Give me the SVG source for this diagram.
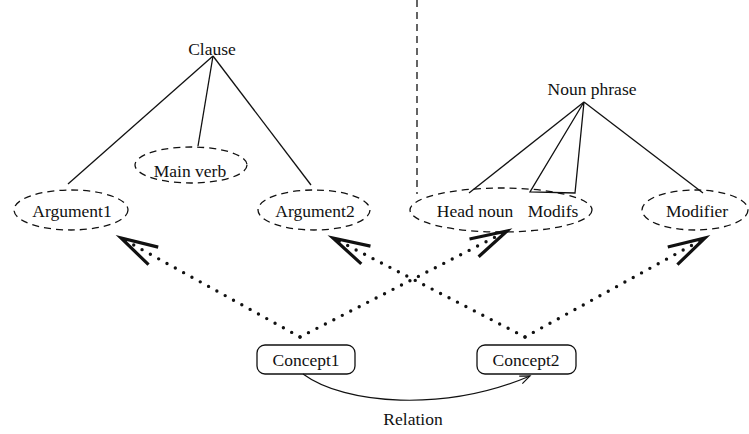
<svg xmlns="http://www.w3.org/2000/svg" width="749" height="434" viewBox="0 0 749 434">
  <style>
    text { font-family: "Liberation Serif", "Times New Roman", serif; font-size: 17.5px; fill: #111; text-anchor: middle; }
    .slot { fill: none; stroke: #111; stroke-width: 1.3; stroke-dasharray: 7 5; }
    .tree { fill: none; stroke: #111; stroke-width: 1.3; }
    .concept { fill: #fff; stroke: #111; stroke-width: 1.3; }
    .map { fill: none; stroke: #111; stroke-width: 3.4; stroke-linecap: round; stroke-dasharray: 0 9.5; marker-end: url(#openHead); }
    .rel { fill: none; stroke: #111; stroke-width: 1.2; marker-end: url(#thinHead); }
    .divider { fill: none; stroke: #111; stroke-width: 1.3; stroke-dasharray: 7 5; }
  </style>
  <defs>
    <marker id="openHead" markerUnits="userSpaceOnUse" orient="auto" refX="0" refY="0" markerWidth="60" markerHeight="40" viewBox="-45 -20 60 40" overflow="visible">
      <path d="M-37,-10 L0,0 L-37,10" fill="none" stroke="#111" stroke-width="3.2" stroke-linejoin="miter"/>
    </marker>
    <marker id="thinHead" markerUnits="userSpaceOnUse" orient="auto" refX="0" refY="0" markerWidth="20" markerHeight="20" viewBox="-15 -10 20 20" overflow="visible">
      <path d="M-10,-4 L0,0 L-10,4" fill="none" stroke="#111" stroke-width="1.2"/>
    </marker>
  </defs>

  <!-- vertical divider -->
  <line class="divider" x1="417" y1="0" x2="417" y2="194"/>

  <!-- clause tree -->
  <g id="clause">
    <text x="212" y="55">Clause</text>
  </g>
  <g id="main-verb">
    <ellipse class="slot" cx="191" cy="165" rx="56" ry="18"/>
    <text x="190" y="177">Main verb</text>
  </g>
  <g id="argument1">
    <ellipse class="slot" cx="71" cy="210" rx="57" ry="20"/>
    <text x="72" y="217">Argument1</text>
  </g>
  <g id="argument2">
    <ellipse class="slot" cx="314" cy="210" rx="56" ry="20"/>
    <text x="315" y="217">Argument2</text>
  </g>

  <!-- noun phrase tree -->
  <g id="noun-phrase">
    <text x="592" y="95">Noun phrase</text>
  </g>
  <g id="head-noun-modifs">
    <ellipse class="slot" cx="501" cy="210" rx="91" ry="22"/>
    <text x="475" y="217">Head noun</text>
    <text x="553" y="217">Modifs</text>
  </g>
  <g id="modifier">
    <ellipse class="slot" cx="695" cy="210" rx="53" ry="20"/>
    <text x="697" y="217">Modifier</text>
  </g>

  <!-- concepts -->
  <g id="concept1">
    <rect class="concept" x="257" y="345" width="98" height="29" rx="8"/>
    <text x="306" y="366">Concept1</text>
  </g>
  <g id="concept2">
    <rect class="concept" x="477" y="345" width="99" height="29" rx="8"/>
    <text x="526" y="366">Concept2</text>
  </g>
  <g id="relation-label">
    <text x="413" y="425">Relation</text>
  </g>

  <!-- connectors -->
  <g id="connectors">
    <!-- clause branches -->
    <line class="tree" x1="213" y1="56" x2="68" y2="184"/>
    <line class="tree" x1="213" y1="56" x2="198" y2="146"/>
    <line class="tree" x1="213" y1="56" x2="311" y2="185"/>
    <!-- noun phrase branches -->
    <line class="tree" x1="584" y1="102" x2="469" y2="193"/>
    <path class="tree" d="M584,102 L530,192 L575,193 Z"/>
    <line class="tree" x1="584" y1="102" x2="703" y2="193"/>
    <!-- concept to slot mappings -->
    <path class="map" d="M300,337 L121,238"/>
    <path class="map" d="M300,337 L507,231"/>
    <path class="map" d="M525,337 L333,238"/>
    <path class="map" d="M525,337 L705,238"/>
    <!-- relation between concepts -->
    <path class="rel" d="M303,374 C345,405 445,412 530,376"/>
  </g>
</svg>
